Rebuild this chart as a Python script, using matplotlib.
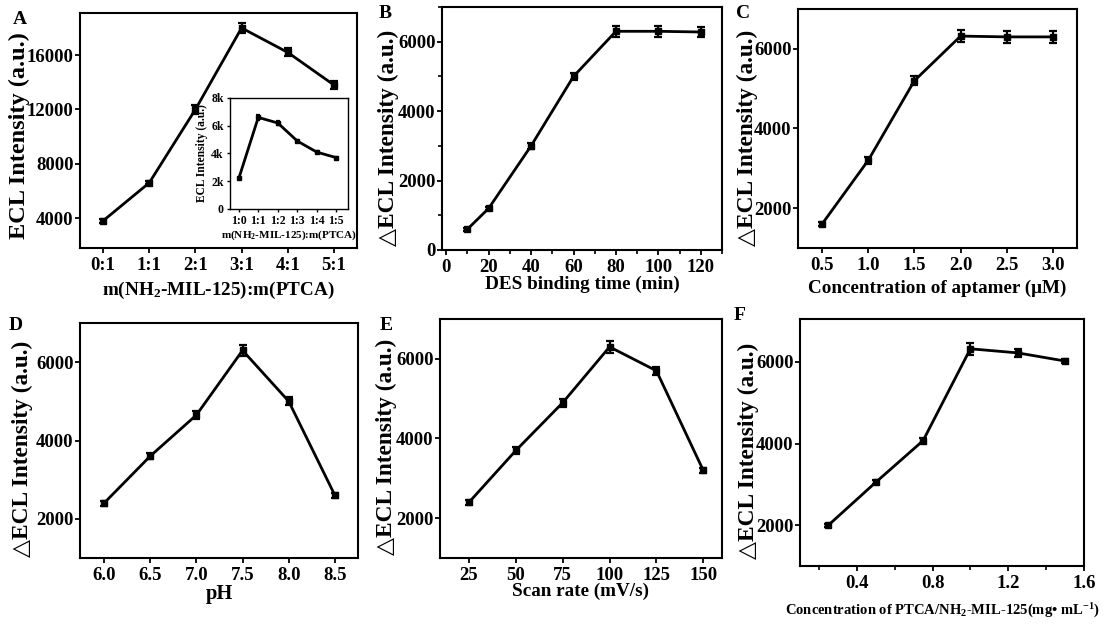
import matplotlib
matplotlib.use("Agg")
import matplotlib.pyplot as plt
from matplotlib.ticker import MultipleLocator, FixedLocator

plt.rcParams['font.family'] = ['Liberation Serif', 'DejaVu Serif']
plt.rcParams['font.weight'] = 'bold'
plt.rcParams['mathtext.fontset'] = 'custom'
plt.rcParams['mathtext.rm'] = 'Liberation Serif:bold'
plt.rcParams['mathtext.bf'] = 'Liberation Serif:bold'
plt.rcParams['mathtext.it'] = 'Liberation Serif:bold'
plt.rcParams['mathtext.default'] = 'bf'

# ---- data ----
a_labels = ["0:1", "1:1", "2:1", "3:1", "4:1", "5:1"]
a_vals = [3800, 6600, 12000, 18000, 16200, 13800]
a_err = [150, 120, 300, 350, 300, 300]

inset_labels = ["1:0", "1:1", "1:2", "1:3", "1:4", "1:5"]
inset_vals = [2200, 6600, 6200, 4900, 4100, 3700]
inset_err = [60, 150, 120, 100, 80, 60]

b_x = [10, 20, 40, 60, 80, 100, 120]
b_vals = [600, 1200, 3000, 5000, 6300, 6300, 6280]
b_err = [40, 50, 80, 100, 150, 150, 150]

c_x = [0.5, 1.0, 1.5, 2.0, 2.5, 3.0]
c_vals = [1600, 3200, 5200, 6320, 6300, 6300]
c_err = [60, 80, 120, 150, 150, 150]

d_x = [6.0, 6.5, 7.0, 7.5, 8.0, 8.5]
d_vals = [2400, 3600, 4650, 6300, 5000, 2600]
d_err = [60, 80, 100, 150, 100, 60]

e_x = [25, 50, 75, 100, 125, 150]
e_vals = [2400, 3700, 4900, 6300, 5700, 3200]
e_err = [60, 80, 100, 150, 100, 60]

f_x = [0.25, 0.5, 0.75, 1.0, 1.25, 1.5]
f_vals = [2000, 3050, 4070, 6320, 6220, 6020]
f_err = [40, 50, 60, 150, 100, 50]

W, H = 1106, 627
fig = plt.figure(figsize=(W / 100, H / 100), dpi=100)

TICK_FS = 13.5
XLAB_FS = 13.8
YLAB_FS = 16.8

def add_ax(box):
    left, right, top, bottom = box
    ax = fig.add_axes([left / W, 1 - bottom / H, (right - left) / W, (bottom - top) / H])
    ax._box = box
    return ax

def style(ax, fs=TICK_FS):
    for s in ax.spines.values():
        s.set_linewidth(1.5)
    ax.tick_params(direction='out', length=3.5, width=1.3, labelsize=fs)
    ax.tick_params(axis='y', pad=1)
    ax.tick_params(axis='x', pad=3)
    ax.tick_params(which='minor', direction='out', length=3, width=1.2)
    for lab in ax.get_xticklabels() + ax.get_yticklabels():
        lab.set_fontweight('bold')

def draw(ax, x, y, err, ms=5, cap=3):
    ax.errorbar(x, y, yerr=err, color='black', lw=2, marker='s', ms=ms,
                elinewidth=1.6, capsize=cap, capthick=1.6)

def place_labels(ax, ylab, yfs, ycx, ycy, xlab, xfs, xcy):
    left, right, top, bottom = ax._box
    ax.set_ylabel(ylab, fontsize=yfs, fontweight='bold')
    ax.yaxis.set_label_coords((ycx - left) / (right - left), (bottom - ycy) / (bottom - top))
    ax.yaxis.label.set_va('center')
    ax.set_xlabel(xlab, fontsize=xfs, fontweight='bold')
    ax.xaxis.set_label_coords(0.5, (bottom - xcy) / (bottom - top))
    ax.xaxis.label.set_va('center')

ylab_delta = "\u25B3ECL Intensity (a.u.)"

# ---- A ----
axA = add_ax((80, 357, 13, 248))
draw(axA, range(len(a_vals)), a_vals, a_err)
axA.set_xlim(-0.5, 5.5)
axA.set_ylim(1800, 19100)
axA.set_xticks(range(len(a_labels)))
axA.set_xticklabels(a_labels)
axA.set_yticks([4000, 8000, 12000, 16000])
style(axA)
place_labels(axA, "ECL Intensity (a.u.)", 17.5, 19, 136,
             "m(NH$_{2}$-MIL-125):m(PTCA)", XLAB_FS, 290)

# inset
axI = add_ax((230, 348, 98, 209))
draw(axI, range(len(inset_vals)), inset_vals, inset_err, ms=3, cap=1.5)
axI.set_xlim(-0.45, 5.6)
axI.set_ylim(0, 8000)
axI.set_xticks(range(len(inset_labels)))
axI.set_xticklabels(inset_labels)
axI.set_yticks([0, 2000, 4000, 6000, 8000])
axI.set_yticklabels(["0", "2k", "4k", "6k", "8k"])
for s in axI.spines.values():
    s.set_linewidth(1.0)
axI.tick_params(direction='out', length=2.5, width=1, labelsize=8.5, pad=2)
for lab in axI.get_xticklabels() + axI.get_yticklabels():
    lab.set_fontweight('bold')
axI.set_ylabel("ECL Intensity (a.u.)", fontsize=8.3, fontweight='bold', labelpad=2)
axI.set_xlabel("m(NH$_{2}$-MIL-125):m(PTCA)", fontsize=8, fontweight='bold', labelpad=1)

# ---- B ----
axB = add_ax((442, 722, 7, 250))
draw(axB, b_x, b_vals, b_err)
axB.set_xlim(-2, 130)
axB.set_ylim(0, 7000)
axB.xaxis.set_major_locator(MultipleLocator(20))
axB.xaxis.set_minor_locator(MultipleLocator(10))
axB.yaxis.set_major_locator(MultipleLocator(2000))
axB.yaxis.set_minor_locator(MultipleLocator(1000))
style(axB)
place_labels(axB, ylab_delta, YLAB_FS, 388, 138, "DES binding time (min)", XLAB_FS, 284)

# ---- C ----
axC = add_ax((798, 1077, 9, 248))
draw(axC, c_x, c_vals, c_err)
axC.set_xlim(0.24, 3.26)
axC.set_ylim(1000, 7000)
axC.set_xticks(c_x)
axC.set_xticklabels([f"{v:.1f}" for v in c_x])
axC.set_yticks([2000, 4000, 6000])
style(axC)
place_labels(axC, ylab_delta, YLAB_FS, 747, 138, "Concentration of aptamer (\u03bcM)", XLAB_FS, 288)

# ---- D ----
axD = add_ax((80, 358, 323, 558))
draw(axD, d_x, d_vals, d_err)
axD.set_xlim(5.74, 8.75)
axD.set_ylim(1000, 7000)
axD.set_xticks(d_x)
axD.set_xticklabels([f"{v:.1f}" for v in d_x])
axD.set_yticks([2000, 4000, 6000])
style(axD)
place_labels(axD, ylab_delta, YLAB_FS, 22, 449, "pH", XLAB_FS + 1, 594)

# ---- E ----
axE = add_ax((440, 722, 319, 558))
draw(axE, e_x, e_vals, e_err)
axE.set_xlim(9.5, 160)
axE.set_ylim(1000, 7000)
axE.set_xticks(e_x)
axE.set_yticks([2000, 4000, 6000])
style(axE)
place_labels(axE, ylab_delta, YLAB_FS, 386, 447, "Scan rate (mV/s)", XLAB_FS, 591)

# ---- F ----
axF = add_ax((800, 1084, 319, 566))
draw(axF, f_x, f_vals, f_err)
axF.set_xlim(0.1, 1.6)
axF.set_ylim(1000, 7050)
axF.xaxis.set_major_locator(FixedLocator([0.4, 0.8, 1.2, 1.6]))
axF.xaxis.set_minor_locator(FixedLocator([0.2, 0.6, 1.0, 1.4]))
axF.set_yticks([2000, 4000, 6000])
style(axF)
place_labels(axF, ylab_delta, YLAB_FS, 748, 451,
             "Concentration of PTCA/NH$_{2}$-MIL-125(mg\u2022 mL$^{-1}$)", 10.5, 611)

# ---- panel letters ----
for letter, (px, py) in {"A": (20, 20), "B": (385, 14), "C": (743, 14),
                         "D": (16, 325), "E": (386, 325), "F": (740, 315)}.items():
    fig.text(px / W, 1 - py / H, letter, fontsize=14, fontweight='bold',
             ha='center', va='center')

fig.savefig("out.png", dpi=100)
